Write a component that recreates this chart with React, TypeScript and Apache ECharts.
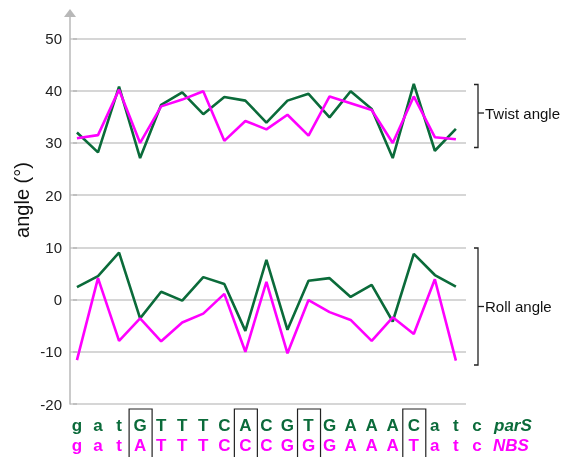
import React, { useEffect, useRef } from "react";
import * as echarts from "echarts";

const twistParS = [32.0, 28.2, 40.8, 27.1, 37.3, 39.7, 35.5, 38.8, 38.1, 33.9, 38.1, 39.4, 34.9, 39.9, 36.5, 27.1, 41.3, 28.5, 32.7];
const twistNBS = [30.9, 31.5, 40.2, 30.0, 37.0, 38.3, 39.9, 30.4, 34.2, 32.6, 35.4, 31.4, 38.9, 37.6, 36.3, 30.0, 38.9, 31.1, 30.7];
const rollParS = [2.4, 4.5, 9.0, -3.6, 1.5, -0.2, 4.3, 3.0, -6.0, 7.6, -5.8, 3.6, 4.1, 0.5, 2.8, -4.2, 8.75, 4.7, 2.5];
const rollNBS = [-11.6, 4.1, -7.9, -3.6, -8.0, -4.4, -2.7, 1.1, -10.0, 3.4, -10.3, -0.1, -2.4, -3.9, -7.9, -3.4, -6.6, 3.9, -11.7];
const seqParS = "gatGTTTCACGTGAAACatc".split("");
const seqNBS = "gatATTTCCCGGGAAATatc".split("");
const boxed = [3, 8, 11, 16];
const yTicks = [-20, -10, 0, 10, 20, 30, 40, 50];

const GREEN = "#0b6b3a";
const MAGENTA = "#ff00ff";
const GREY = "#b8b8b8";
const FONT = "'Liberation Sans', Arial, sans-serif";

export default function App() {
  const ref = useRef<HTMLDivElement>(null);
  useEffect(() => {
    if (!ref.current) return;
    const chart = echarts.init(ref.current, undefined, { renderer: "svg" });
    const toPairs = (arr: number[]) => arr.map((v, i) => [i, v]);
    const line = (name: string, arr: number[], color: string) => ({
      name,
      type: "line",
      xAxisIndex: 0,
      yAxisIndex: 0,
      data: toPairs(arr),
      symbol: "none",
      lineStyle: { color, width: 2.6 },
      z: color === GREEN ? 3 : 4,
    });
    chart.setOption({
      animation: false,
      grid: [
        { left: 70, right: 109, top: 38.5, bottom: 53 },
        { left: 70, right: 109, top: 13, bottom: 53 },
      ],
      xAxis: [
        { type: "value", gridIndex: 0, min: -0.33, max: 18.48, show: false },
        { type: "value", gridIndex: 1, min: 0, max: 1, show: false },
      ],
      yAxis: [
        {
          type: "value",
          gridIndex: 0,
          min: yTicks[0],
          max: yTicks[yTicks.length - 1],
          interval: 10,
          axisLine: { show: false },
          axisTick: { show: true, length: 4, lineStyle: { color: GREY, width: 1.5 } },
          axisLabel: { margin: 8, color: "#222", fontSize: 15, fontFamily: FONT },
          splitLine: { show: true, lineStyle: { color: "#c8c8c8", width: 1.5 } },
        },
        {
          type: "value",
          gridIndex: 1,
          min: 0,
          max: 1,
          axisLine: {
            show: true,
            symbol: ["none", "triangle"],
            symbolSize: [12, 8],
            lineStyle: { color: GREY, width: 1.5 },
          },
          axisTick: { show: false },
          axisLabel: { show: false },
          splitLine: { show: false },
        },
      ],
      series: [
        line("Twist parS", twistParS, GREEN),
        line("Twist NBS", twistNBS, MAGENTA),
        line("Roll parS", rollParS, GREEN),
        line("Roll NBS", rollNBS, MAGENTA),
        {
          type: "custom",
          xAxisIndex: 0,
          yAxisIndex: 0,
          clip: false,
          data: seqParS.map((_, i) => [i, yTicks[0]]),
          renderItem: (params: any, api: any) => {
            const i = api.value(0);
            const p = api.coord([i, api.value(1)]);
            const children: any[] = [
              {
                type: "text",
                x: p[0],
                y: p[1] + 21,
                style: { text: seqParS[i], fill: GREEN, font: `bold 17px ${FONT}`, align: "center", verticalAlign: "middle" },
              },
              {
                type: "text",
                x: p[0],
                y: p[1] + 41,
                style: { text: seqNBS[i], fill: MAGENTA, font: `bold 17px ${FONT}`, align: "center", verticalAlign: "middle" },
              },
            ];
            if (boxed.includes(i)) {
              children.push({
                type: "rect",
                shape: { x: p[0] - 11, y: p[1] + 5, width: 23, height: 50 },
                style: { fill: "none", stroke: "#222", lineWidth: 1.2 },
              });
            }
            return { type: "group", children };
          },
        },
      ],
      graphic: [
        {
          type: "text",
          x: 22,
          y: 200,
          rotation: Math.PI / 2,
          style: { text: "angle (°)", fill: "#111", font: `20px ${FONT}`, align: "center", verticalAlign: "middle" },
        },
        // Twist bracket
        { type: "polyline", shape: { points: [[474, 84.5], [478, 84.5], [478, 147.5], [474, 147.5]] }, style: { stroke: "#222", lineWidth: 1.3, fill: "none" } },
        { type: "line", shape: { x1: 478, y1: 113, x2: 484, y2: 113 }, style: { stroke: "#222", lineWidth: 1.3 } },
        { type: "text", x: 485, y: 113, style: { text: "Twist angle", fill: "#111", font: `15px ${FONT}`, align: "left", verticalAlign: "middle" } },
        // Roll bracket
        { type: "polyline", shape: { points: [[474, 248], [478, 248], [478, 365], [474, 365]] }, style: { stroke: "#222", lineWidth: 1.3, fill: "none" } },
        { type: "line", shape: { x1: 478, y1: 306.5, x2: 484, y2: 306.5 }, style: { stroke: "#222", lineWidth: 1.3 } },
        { type: "text", x: 485, y: 306.5, style: { text: "Roll angle", fill: "#111", font: `15px ${FONT}`, align: "left", verticalAlign: "middle" } },
        // Sequence labels
        { type: "text", x: 494, y: 425, style: { text: "parS", fill: GREEN, font: `italic bold 17px ${FONT}`, align: "left", verticalAlign: "middle" } },
        { type: "text", x: 493, y: 445, style: { text: "NBS", fill: MAGENTA, font: `italic bold 17px ${FONT}`, align: "left", verticalAlign: "middle" } },
      ],
    });
    return () => chart.dispose();
  }, []);
  return <div ref={ref} style={{ position: "fixed", left: 0, top: 0, width: 575, height: 457 }} />;
}
